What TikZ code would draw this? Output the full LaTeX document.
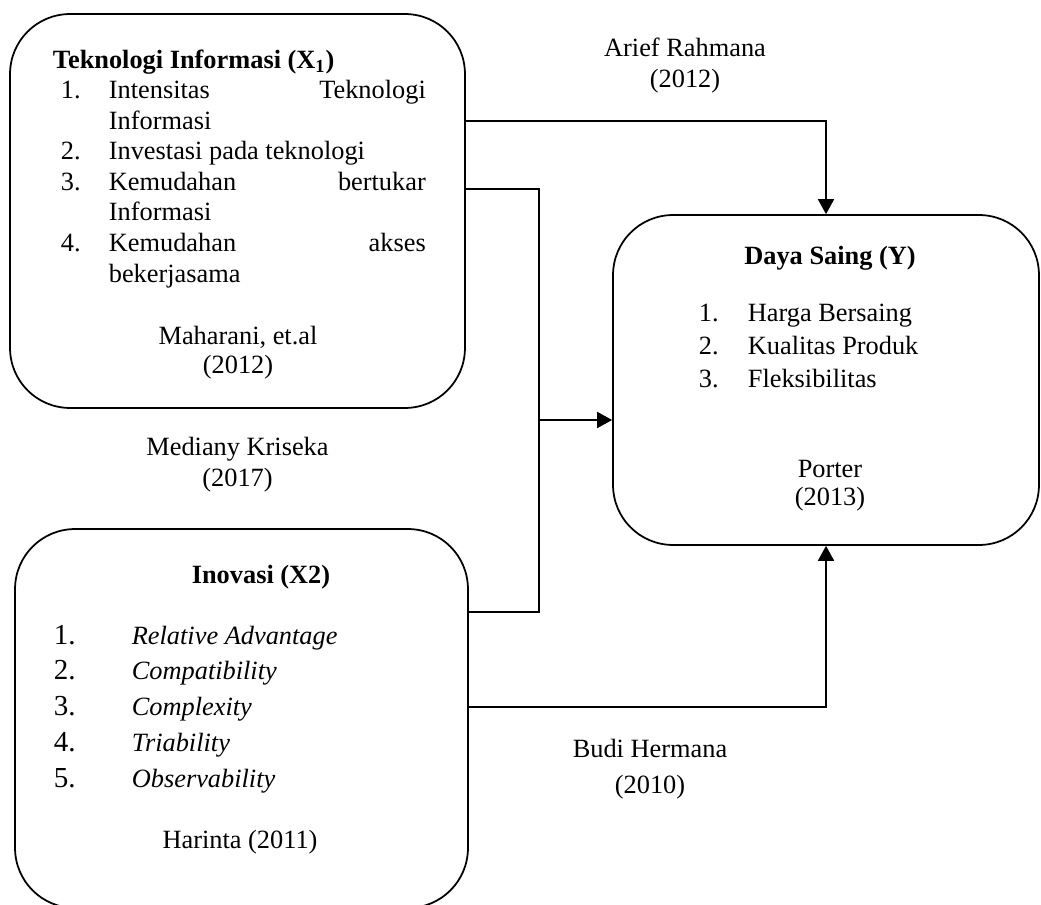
\documentclass[tikz,border=0pt]{standalone}
\usepackage{fontspec}
\setmainfont{Liberation Serif}
\usepackage{array}
\usetikzlibrary{arrows.meta, positioning, calc}

\begin{document}
\begin{tikzpicture}[
    x=0.02cm, y=-0.02cm,
    line width=1pt,
    box/.style={draw, rounded corners=1.2cm, inner sep=0pt},
    txt/.style={inner sep=0pt, anchor=base west},
    mid/.style={inner sep=0pt, anchor=base},
    arr/.style={-{Triangle[length=3mm, width=3.2mm]}},
    font=\fontsize{15}{17.4}\selectfont
    ]
    \useasboundingbox (0,0) rectangle (1041,905);

    % kotak variabel
    \node[box, minimum width=9.1cm, minimum height=7.88cm] (tek) at (237.5,211) {};
    \node[box, minimum width=9.06cm, minimum height=7.58cm] (inov) at (241.5,718.5) {};
    \node[box, minimum width=8.52cm, minimum height=6.6cm] (saing) at (826,380) {};

    % isi X1
    \node[txt] (tekjudul) at (52,69) {\textbf{Teknologi Informasi (X\textsubscript{1})}};
    \node[txt, font=\fontsize{15}{17.36}\selectfont] (teklist) at (60,99) {%
        \begin{tabular}[t]{@{}p{0.96cm}@{}p{6.34cm}@{}}
        1. & Intensitas\hfill Teknologi\\
           & Informasi\\
        2. & Investasi pada teknologi\\
        3. & Kemudahan\hfill bertukar\\
           & Informasi\\
        4. & Kemudahan\hfill akses\\
           & bekerjasama
        \end{tabular}};
    \node[mid, font=\fontsize{15}{16.2}\selectfont] (tekref) at (238,345) {%
        \begin{tabular}[t]{@{}c@{}}Maharani, et.al\\(2012)\end{tabular}};

    % isi X2
    \node[mid] (inovjudul) at (261,583) {\textbf{Inovasi (X2)}};
    \node[txt, font=\fontsize{15}{20.4}\selectfont] (inovlist) at (53,644) {%
        \begin{tabular}[t]{@{}p{1.56cm}@{}l@{}}
        {\fontsize{16.5}{20.4}\selectfont 1.} & \textit{Relative Advantage}\\
        {\fontsize{16.5}{20.4}\selectfont 2.} & \textit{Compatibility}\\
        {\fontsize{16.5}{20.4}\selectfont 3.} & \textit{Complexity}\\
        {\fontsize{16.5}{20.4}\selectfont 4.} & \textit{Triability}\\
        {\fontsize{16.5}{20.4}\selectfont 5.} & \textit{Observability}
        \end{tabular}};
    \node[mid] (inovref) at (240,848) {Harinta (2011)};

    % isi Y
    \node[mid] (saingjudul) at (830,265) {\textbf{Daya Saing (Y)}};
    \node[txt, font=\fontsize{15}{18.5}\selectfont] (sainglist) at (698,322) {%
        \begin{tabular}[t]{@{}p{0.98cm}@{}l@{}}
        1. & Harga Bersaing\\
        2. & Kualitas Produk\\
        3. & Fleksibilitas
        \end{tabular}};
    \node[mid, font=\fontsize{15}{16.2}\selectfont] (saingref) at (830,477) {%
        \begin{tabular}[t]{@{}c@{}}Porter\\(2013)\end{tabular}};

    % sumber pada garis
    \node[mid, font=\fontsize{15}{17.6}\selectfont] (ref1) at (685,57) {%
        \begin{tabular}[t]{@{}c@{}}Arief Rahmana\\(2012)\end{tabular}};
    \node[mid, font=\fontsize{15}{18.2}\selectfont] (ref2) at (237.5,455) {%
        \begin{tabular}[t]{@{}c@{}}Mediany Kriseka\\(2017)\end{tabular}};
    \node[mid, font=\fontsize{15}{20.5}\selectfont] (ref3) at (650,757) {%
        \begin{tabular}[t]{@{}c@{}}Budi Hermana\\(2010)\end{tabular}};

    % garis hubungan
    \coordinate (gabung) at (539,420);
    \draw[arr] (tek.east |- 0,121) -| (saing.north);
    \draw (tek.east |- 0,189) -| (gabung |- 0,612) -- (inov.east |- 0,612);
    \draw[arr] (gabung) -- (saing.west |- gabung);
    \draw[arr] (inov.east |- 0,707) -| (saing.south);
\end{tikzpicture}
\end{document}
